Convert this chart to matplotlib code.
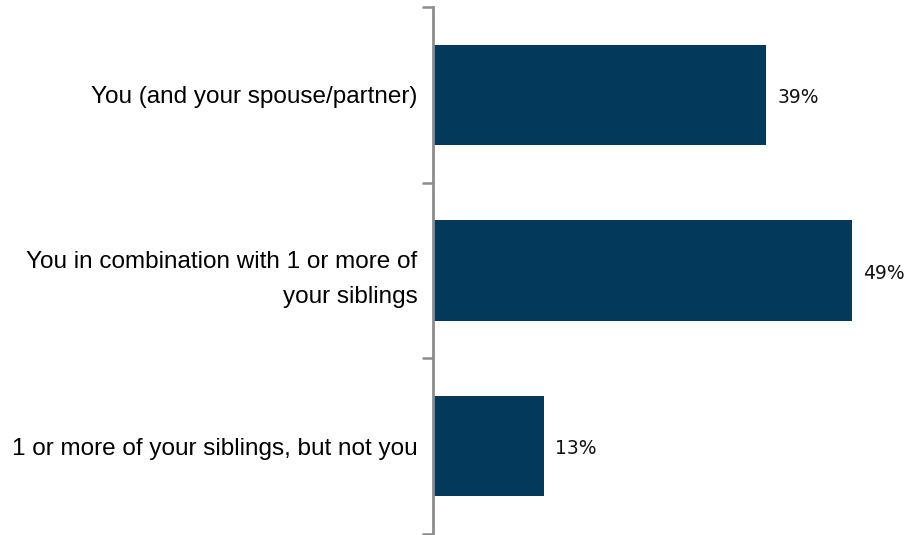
import numpy as np
import matplotlib.pyplot as plt
from matplotlib.ticker import FixedLocator

# Data
categories = [
    "You (and your spouse/partner)",
    "You in combination with 1 or more of\nyour siblings",
    "1 or more of your siblings, but not you",
]
values = [39, 49, 13]
value_labels = ["39%", "49%", "13%"]

bar_color = "#033a5c"
axis_color = "#8c8c8c"

fig = plt.figure(figsize=(9.06, 5.35), dpi=100)
ax = fig.add_axes([433 / 906, 1 / 535, 473 / 906, 527 / 535])

y = np.arange(len(categories))
ax.barh(y, values, height=0.57, color=bar_color, left=0)
ax.set_ylim(len(categories) - 0.5, -0.5)
ax.set_xlim(0, 473 / 8.55)

# value labels
for yi, v, lab in zip(y, values, value_labels):
    ax.text(v + 1.3, yi + 0.015, lab, va="center", ha="left", fontsize=13.5,
            family="DejaVu Sans", color="#111111")

# category labels
ax.set_yticks(y)
ax.set_yticklabels(categories, family="Liberation Sans", fontsize=17.5,
                   linespacing=1.75, ha="right")
ax.tick_params(axis="y", which="major", length=0, pad=11)
ax.yaxis.set_minor_locator(FixedLocator(np.arange(-0.5, len(categories), 1)))
ax.tick_params(axis="y", which="minor", length=8, width=1.8, color=axis_color,
               direction="out")

ax.set_xticks([])
for s in ["top", "right", "bottom"]:
    ax.spines[s].set_visible(False)
ax.spines["left"].set_color(axis_color)
ax.spines["left"].set_linewidth(2)

fig.savefig("out.png", dpi=100)
plt.close()
